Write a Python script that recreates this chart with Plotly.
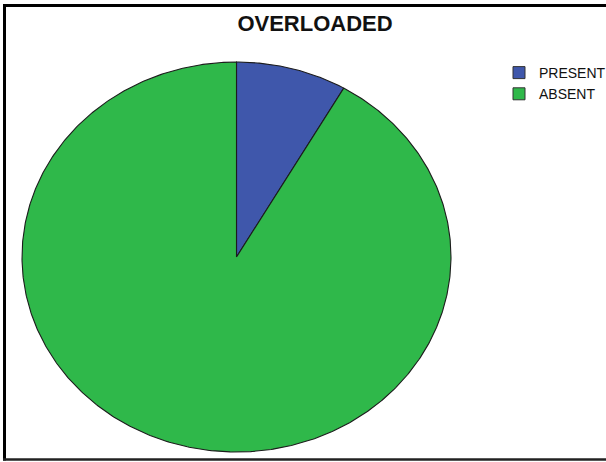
import numpy as np
import plotly.graph_objects as go

# ---- data ----
categories = ["PRESENT", "ABSENT"]
counts = [5, 55]
colors = ["#3F57AB", "#2FB84A"]
title_text = "OVERLOADED"

# ---- layout geometry (pixels in a 606x462 canvas) ----
W, H = 606, 462
cx, cy = 236.5, 257.0   # ellipse centre (from top-left)
rx, ry = 214.5, 195.0   # ellipse radii

# axis ranges so that the unit circle maps onto the ellipse
x_range = [-cx / rx, (W - cx) / rx]
y_range = [-(H - cy) / ry, cy / ry]

fig = go.Figure()

total = float(sum(counts))
start = 0.0  # fraction, clockwise from 12 o'clock
for name, val, col in zip(categories, counts, colors):
    frac = val / total
    n = max(int(frac * 720), 4)
    t = np.linspace(start, start + frac, n) * 2 * np.pi
    xs = np.concatenate([[0.0], np.sin(t), [0.0]])
    ys = np.concatenate([[0.0], np.cos(t), [0.0]])
    fig.add_trace(go.Scatter(
        x=xs, y=ys, mode="lines", fill="toself", fillcolor=col,
        line=dict(color="#1c1c1c", width=1.1), name=name,
        showlegend=False, hoverinfo="name",
    ))
    start += frac

# legend entries
for name, col in zip(categories, colors):
    fig.add_trace(go.Scatter(
        x=[None], y=[None], mode="markers", name=name,
        marker=dict(symbol="square", size=12, color=col,
                    line=dict(color="#333333", width=1)),
    ))

fig.update_layout(
    width=W, height=H,
    margin=dict(l=0, r=0, t=0, b=0, autoexpand=False),
    paper_bgcolor="white", plot_bgcolor="white",
    title=dict(text=f"<b>{title_text}</b>", x=315 / W, y=1 - 23 / H,
               xanchor="center", yanchor="middle",
               font=dict(family="Liberation Sans, Arial", size=22, color="#111111")),
    xaxis=dict(range=x_range, visible=False, fixedrange=True),
    yaxis=dict(range=y_range, visible=False, fixedrange=True),
    legend=dict(x=499 / W, y=1 - 57 / H, xanchor="left", yanchor="top",
                font=dict(family="Liberation Sans, Arial", size=14, color="#111111"),
                bgcolor="rgba(0,0,0,0)", tracegroupgap=0, itemwidth=30),
    showlegend=True,
    shapes=[
        dict(type="line", xref="paper", yref="paper", x0=5 / W, x1=1.02,
             y0=1 - 5.5 / H, y1=1 - 5.5 / H, line=dict(color="black", width=3)),
        dict(type="line", xref="paper", yref="paper", x0=4.5 / W, x1=4.5 / W,
             y0=1 - 4 / H, y1=1 - 460.5 / H, line=dict(color="black", width=3)),
        dict(type="line", xref="paper", yref="paper", x0=3 / W, x1=1.02,
             y0=1 - 459.5 / H, y1=1 - 459.5 / H, line=dict(color="#222222", width=2.5)),
    ],
)

fig.write_html("out.html")
